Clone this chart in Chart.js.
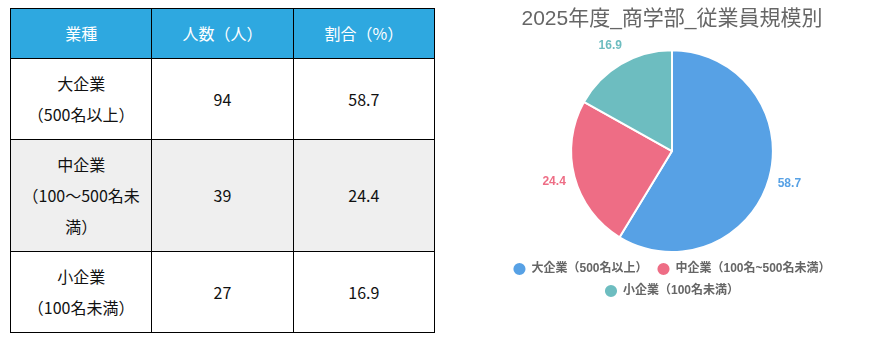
<!DOCTYPE html>
<html>
<head>
<meta charset="utf-8">
<script src="https://cdn.jsdelivr.net/npm/chart.js@4"></script>
<style>
  body { margin: 0; background: #fff; width: 870px; height: 339px; overflow: hidden; position: relative; }
  table {
    position: absolute; left: 10px; top: 8px;
    border-collapse: collapse; width: 425px;
    font-family: "Noto Sans CJK JP", sans-serif; font-size: 16px; color: #111;
  }
  th, td { border: 1.5px solid #000; text-align: center; line-height: 31px; padding: 9px 4px; width: 33%; }
  th { background: #2ea8e0; color: #fff; font-weight: normal; }
  tr.alt td { background: #efefef; }
  #wrap { position: absolute; left: 474px; top: 0; width: 396px; height: 307px; }
</style>
</head>
<body>
<table id="tbl"></table>
<div id="wrap"><canvas id="pie"></canvas></div>
<script>
// data
var headers = ["業種", "人数（人）", "割合（%）"];
var tableLabels = ["大企業<br>（500名以上）", "中企業<br>（100〜500名未<br>満）", "小企業<br>（100名未満）"];
var counts = [94, 39, 27];
var percents = [58.7, 24.4, 16.9];
var legendLabels = ["大企業（500名以上）", "中企業（100名~500名未満）", "小企業（100名未満）"];
var colors = ["#57a1e5", "#ee6d85", "#6dbdc0"];

// table
var html = "<tr>" + headers.map(function (h) { return "<th>" + h + "</th>"; }).join("") + "</tr>";
for (var i = 0; i < counts.length; i++) {
  html += '<tr class="' + (i == 1 ? "alt" : "") + '"><td>' + tableLabels[i] + "</td><td>" +
    counts[i] + "</td><td>" + percents[i].toFixed(1) + "</td></tr>";
}
document.getElementById("tbl").innerHTML = html;

// value labels outside each slice
var outLabels = {
  id: "outLabels",
  afterDatasetsDraw: function (chart) {
    var ctx = chart.ctx;
    var ds = chart.data.datasets[0];
    var meta = chart.getDatasetMeta(0);
    ctx.save();
    ctx.font = "bold 12px 'Liberation Sans', Arial, sans-serif";
    ctx.textAlign = "center";
    ctx.textBaseline = "middle";
    meta.data.forEach(function (arc, i) {
      var p = arc.getProps(["x", "y", "startAngle", "endAngle", "outerRadius"], true);
      var mid = (p.startAngle + p.endAngle) / 2;
      var r = p.outerRadius + 21;
      ctx.fillStyle = ds.backgroundColor[i];
      ctx.fillText(ds.data[i].toFixed(1), p.x + Math.cos(mid) * r, p.y + Math.sin(mid) * r);
    });
    ctx.restore();
  },
};

Chart.defaults.font.family = "'Liberation Sans', Arial, 'Noto Sans CJK JP', sans-serif";
Chart.defaults.color = "#666";

new Chart(document.getElementById("pie"), {
  type: "pie",
  data: {
    labels: legendLabels,
    datasets: [{
      data: percents,
      backgroundColor: colors,
      borderColor: "#fff",
      borderWidth: 2,
    }],
  },
  options: {
    responsive: true,
    maintainAspectRatio: false,
    animation: false,
    layout: { padding: 0 },
    plugins: {
      title: {
        display: true,
        text: "2025年度_商学部_従業員規模別",
        font: { size: 21, weight: "normal" },
        color: "#666",
        padding: { top: 7, bottom: 17 },
      },
      legend: {
        position: "bottom",
        labels: {
          usePointStyle: true,
          pointStyle: "circle",
          boxWidth: 12,
          boxHeight: 10,
          padding: 10,
          font: { size: 12, weight: "bold" },
          color: "#666",
        },
      },
      tooltip: { enabled: false },
    },
  },
  plugins: [outLabels],
});
</script>
</body>
</html>
